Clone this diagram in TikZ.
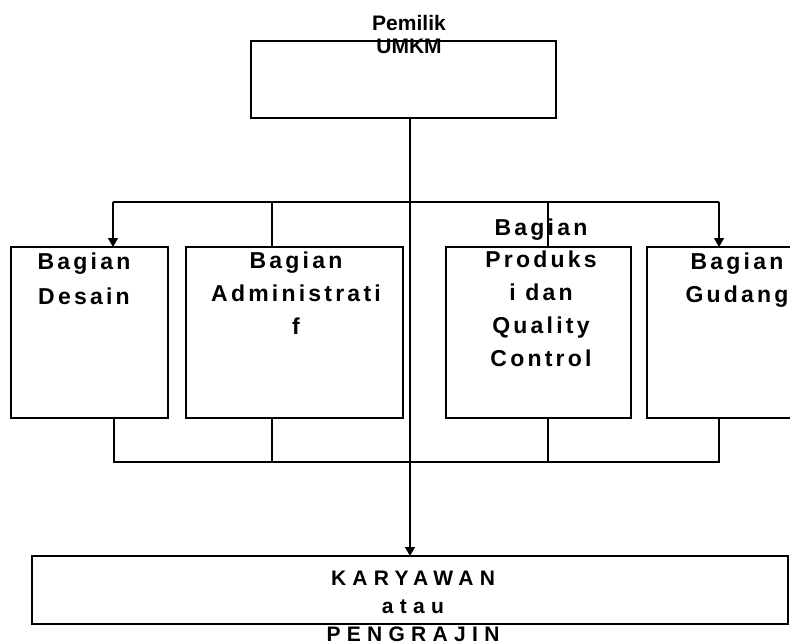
\documentclass[tikz,border=0pt]{standalone}
\usepackage{fontspec}
\setmainfont{Liberation Sans}
\newfontfamily\boxfont{Liberation Sans Bold}[LetterSpace=14]
\newfontfamily\botfont{Liberation Sans Bold}[LetterSpace=30]
\usetikzlibrary{arrows.meta}
\begin{document}
\begin{tikzpicture}[x=1pt,y=-1pt,
  orgbox/.style={draw, line width=1.4pt, rectangle, inner sep=0pt, outer sep=0pt},
  conn/.style={line width=1.4pt},
  arr/.style={line width=1.4pt, -{Triangle[length=9pt,width=10pt]}},
  toptxt/.style={anchor=base, align=center, inner sep=0pt, font=\bfseries\fontsize{21}{23}\selectfont},
  boxtxt/.style={anchor=base, align=center, inner sep=0pt, font=\boxfont\fontsize{23}{32.7}\selectfont},
  bottxt/.style={anchor=base, align=center, inner sep=0pt, font=\botfont\fontsize{21}{28}\selectfont}]
\useasboundingbox (0,0) rectangle (790,643);
\clip (0,0) rectangle (790,643);
% boxes
\node[orgbox, minimum width=305pt, minimum height=77pt] (owner) at (403.5,79.5) {};
\node[orgbox, minimum width=157pt, minimum height=171pt] (desain) at (89.5,332.5) {};
\node[orgbox, minimum width=217pt, minimum height=171pt] (admin) at (294.5,332.5) {};
\node[orgbox, minimum width=185pt, minimum height=171pt] (prod) at (538.5,332.5) {};
\node[orgbox, minimum width=176pt, minimum height=171pt] (gudang) at (735,332.5) {};
\node[orgbox, minimum width=756pt, minimum height=68pt] (kary) at (410,590) {};
% texts (anchor=base is the baseline of the last line)
\node[toptxt] (towner) at (409,53.3) {Pemilik\\UMKM};
\node[boxtxt, font=\boxfont\fontsize{23}{35}\selectfont] (tdesain) at (84,304) {Bagian\\Desain};
\node[boxtxt] (tadmin) at (296,334) {Bagian\\Administrati\\f};
\node[boxtxt] (tprod) at (541,366) {Bagian\\Produks\\i dan\\Quality\\Control};
\node[boxtxt] (tgudang) at (737,302) {Bagian\\Gudang};
\node[bottxt] (tkary) at (413,641.5) {KARYAWAN\\atau\\PENGRAJIN};
% connector points
\coordinate (bl) at (113,202);
\coordinate (t2) at (272,202);
\coordinate (t3) at (548,202);
\coordinate (brr) at (719,202);
\coordinate (b1) at (114,462);
\coordinate (b2) at (272,462);
\coordinate (b3) at (548,462);
\coordinate (b4) at (719,462);
% trunk
\draw[arr] (kary.north |- owner.south) -- (kary.north);
% top branch
\draw[conn] (bl) -- (brr);
\draw[arr] (bl) -- (bl |- desain.north);
\draw[arr] (brr) -- (brr |- gudang.north);
\draw[conn] (t2) -- (t2 |- admin.north);
\draw[conn] (t3) -- (t3 |- prod.north);
% bottom join
\draw[conn] (b1 |- desain.south) -- (b1) -- (b4) -- (b4 |- gudang.south);
\draw[conn] (b2 |- admin.south) -- (b2);
\draw[conn] (b3 |- prod.south) -- (b3);
\end{tikzpicture}
\end{document}
